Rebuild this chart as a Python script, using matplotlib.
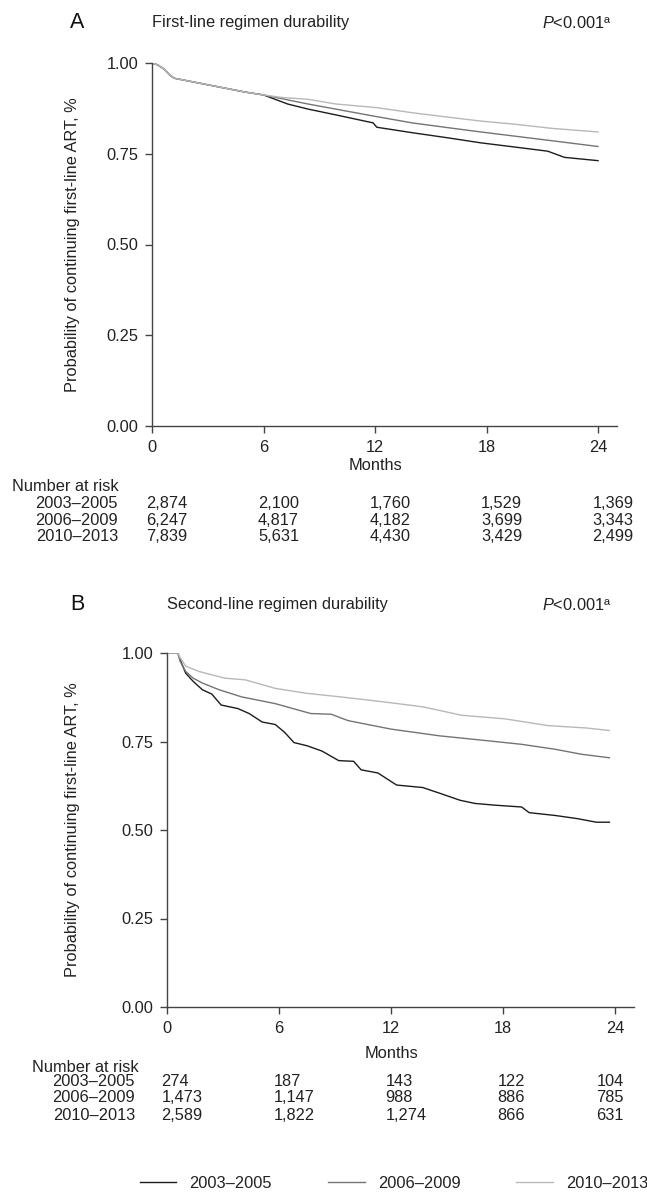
import matplotlib
matplotlib.use("Agg")
import matplotlib.pyplot as plt
from matplotlib.lines import Line2D
from matplotlib.transforms import blended_transform_factory

plt.rcParams['font.family'] = ['Liberation Sans', 'DejaVu Sans']
plt.rcParams['mathtext.fontset'] = 'custom'
plt.rcParams['mathtext.rm'] = 'Liberation Sans'
plt.rcParams['mathtext.it'] = 'Liberation Sans:italic'

groups = ['2003–2005', '2006–2009', '2010–2013']
colors = ['#1c1c1c', '#747474', '#b8b8b8']
xticks = [0, 6, 12, 18, 24]
yticks = [0.0, 0.25, 0.5, 0.75, 1.0]

# Panel A: first-line regimen durability (months, survival probability)
a_early_t = [0, 0.3, 0.6, 1.0, 1.2, 2.0, 3.0, 4.0, 5.0, 6.0]
a_early_s = [1.0, 0.995, 0.985, 0.965, 0.958, 0.95, 0.94, 0.93, 0.92, 0.912]
a1_t = a_early_t + [7.3, 8.4, 9.9, 11.9, 12.1, 14.0, 15.9, 17.7, 19.6, 21.3, 22.2, 24.0]
a1_s = a_early_s + [0.887, 0.873, 0.857, 0.835, 0.823, 0.808, 0.794, 0.780, 0.768, 0.757, 0.740, 0.731]
a2_t = a_early_t + [8.4, 11.9, 14.0, 15.9, 17.7, 19.6, 21.5, 24.0]
a2_s = a_early_s + [0.887, 0.854, 0.835, 0.822, 0.810, 0.798, 0.786, 0.770]
a3_t = a_early_t + [7.0, 8.4, 9.9, 12.1, 14.0, 15.9, 17.7, 19.6, 21.5, 24.0]
a3_s = a_early_s + [0.905, 0.900, 0.887, 0.877, 0.863, 0.851, 0.840, 0.831, 0.820, 0.810]

# Panel B: second-line regimen durability
b1_t = [0, 0.58, 0.7, 1.0, 1.4, 1.9, 2.4, 2.9, 3.8, 4.4, 5.1, 5.8, 6.3, 6.8, 7.5, 8.3, 9.2,
        10.0, 10.4, 11.3, 12.3, 13.7, 14.6, 15.7, 16.5, 17.6, 19.0, 19.4, 20.8, 22.0, 23.0, 23.7]
b1_s = [1.0, 1.0, 0.982, 0.943, 0.920, 0.896, 0.884, 0.853, 0.843, 0.829, 0.805, 0.798, 0.776,
        0.747, 0.738, 0.723, 0.696, 0.694, 0.670, 0.661, 0.627, 0.620, 0.604, 0.584, 0.575,
        0.570, 0.565, 0.549, 0.541, 0.532, 0.522, 0.522]
b2_t = [0, 0.58, 0.7, 1.0, 1.4, 1.9, 2.8, 4.0, 5.8, 7.7, 8.8, 9.7, 12.0, 14.6, 17.2, 19.0,
        20.8, 22.2, 23.7]
b2_s = [1.0, 1.0, 0.977, 0.948, 0.929, 0.915, 0.896, 0.876, 0.857, 0.829, 0.827, 0.809,
        0.785, 0.766, 0.752, 0.742, 0.728, 0.714, 0.704]
b3_t = [0, 0.58, 0.7, 1.0, 1.7, 3.1, 4.2, 5.8, 7.5, 9.3, 11.6, 13.7, 15.8, 18.1, 20.4,
        22.5, 23.7]
b3_s = [1.0, 1.0, 0.987, 0.963, 0.948, 0.929, 0.924, 0.900, 0.886, 0.876, 0.862, 0.848,
        0.824, 0.814, 0.795, 0.788, 0.781]

risk_a = [['2,874', '2,100', '1,760', '1,529', '1,369'],
          ['6,247', '4,817', '4,182', '3,699', '3,343'],
          ['7,839', '5,631', '4,430', '3,429', '2,499']]
risk_b = [['274', '187', '143', '122', '104'],
          ['1,473', '1,147', '988', '886', '785'],
          ['2,589', '1,822', '1,274', '866', '631']]

W, H = 647, 1195
fig = plt.figure(figsize=(W / 100, H / 100), dpi=100)
TXT = '#222222'
FS = 11.8


def fy(py):
    return 1 - py / H


def fx(px):
    return px / W


def panel(x0, x24, y0, y1, letter, title, curves, risk, risk_label_right,
          nar_left, nar_y, rows_y, months_y, letter_y, last_shift):
    ppm = (x24 - x0) / 24.0
    xmax = 25.0
    ax = fig.add_axes([fx(x0), fy(y0), (xmax * ppm) / W, (y0 - y1) / H])
    for (t, s), c in zip(curves, colors):
        ax.plot(t, s, color=c, lw=1.0)
    ax.set_xlim(0, xmax)
    ax.set_ylim(0, 1.0)
    ax.set_xticks(xticks)
    ax.set_yticks(yticks)
    ax.set_yticklabels(['%.2f' % v for v in yticks])
    for sp in ['top', 'right']:
        ax.spines[sp].set_visible(False)
    for sp in ['left', 'bottom']:
        ax.spines[sp].set_color('#444444')
        ax.spines[sp].set_linewidth(1.0)
    ax.tick_params(axis='both', direction='out', length=5, width=1.0, color='#444444',
                   labelsize=FS, labelcolor=TXT, pad=5)
    ax.set_ylabel('Probability of continuing first-line ART, %', fontsize=FS, color=TXT)
    ax.yaxis.set_label_coords((80 - x0) / (xmax * ppm), 0.5)
    fig.text(fx(70), fy(letter_y), letter, fontsize=15.5, color='#111111', va='center', ha='left')
    fig.text(fx(x0), fy(letter_y + 1), title, fontsize=FS, color=TXT, va='center', ha='left')
    fig.text(fx(612), fy(letter_y + 1), r'$\mathit{P}$<0.001ª', fontsize=FS,
             color=TXT, va='center', ha='right')
    tr = blended_transform_factory(ax.transData, fig.transFigure)
    ax.text(12, fy(months_y), 'Months', transform=tr, fontsize=FS, color=TXT,
            ha='center', va='center')
    fig.text(fx(nar_left), fy(nar_y), 'Number at risk', fontsize=FS, color=TXT,
             ha='left', va='center')
    for g, row, ry in zip(groups, risk, rows_y):
        fig.text(fx(risk_label_right), fy(ry), g, fontsize=FS, color=TXT,
                 ha='right', va='center')
        for i, (xt, val) in enumerate(zip(xticks, row)):
            off = -0.3 - (last_shift if i == len(xticks) - 1 else 0)
            ax.text(xt + off, fy(ry), val, transform=tr, fontsize=FS, color=TXT,
                    ha='left', va='center')
    return ax


panel(152, 598, 426, 63, 'A', 'First-line regimen durability',
      [(a1_t, a1_s), (a2_t, a2_s), (a3_t, a3_s)], risk_a, 118,
      12, 487, [504, 521, 537], 466, 22, 0.0)
panel(167, 615, 1007, 653, 'B', 'Second-line regimen durability',
      [(b1_t, b1_s), (b2_t, b2_s), (b3_t, b3_s)], risk_b, 135,
      32, 1067, [1082, 1098, 1115], 1053, 604, 0.7)

handles = [Line2D([], [], color=c, lw=1.0) for c in colors]
fig.legend(handles, groups, ncol=3, loc='center', bbox_to_anchor=(fx(394), fy(1183)),
           frameon=False, fontsize=FS, handlelength=2.25, handletextpad=0.8,
           columnspacing=3.4, labelcolor=TXT)

fig.savefig('out.png', dpi=100)
